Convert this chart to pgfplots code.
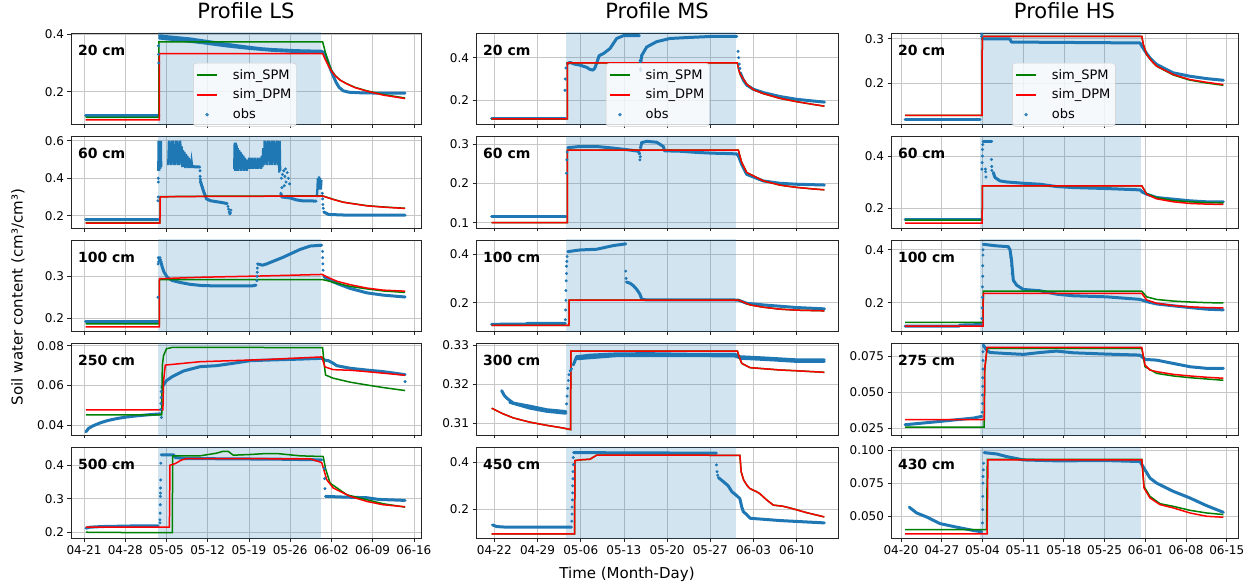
\documentclass[border=0pt]{standalone}
\usepackage{fontspec}
\setmainfont{DejaVu Sans}
\usepackage{pgfplots}
\pgfplotsset{compat=1.18}
\definecolor{tabblue}{HTML}{1F77B4}
\definecolor{mplgreen}{HTML}{008000}
\definecolor{mplred}{HTML}{FF0000}
\tikzset{dlab/.style={anchor=west, font=\bfseries\fontsize{14}{16}\selectfont}}
\pgfplotsset{
  base/.style={scale only axis, height=91.5pt, anchor=north west,
    axis line style={black!85, line width=0.8pt},
    grid=major, major grid style={black!22, line width=0.7pt},
    tick align=outside, major tick length=3.5pt,
    tick style={black!85, line width=0.8pt},
    xtick pos=left, ytick pos=left, scaled ticks=false,
    tick label style={font=\fontsize{12}{14}\selectfont},
    clip=true},
  c1/.style={base, width=350pt, xmin=-2.2, xmax=57.2, xtick={0,7,...,56}},
  c2/.style={base, width=362pt, xmin=-2.97, xmax=55.7, xtick={0,7,...,49}},
  c3/.style={base, width=347pt, xmin=-1.72, xmax=57.94, xtick={0,7,...,56}},
  noxl/.style={xticklabels={}},
  obsl/.style={tabblue, line width=3pt, line join=round, line cap=round, forget plot},
  obsz/.style={tabblue, line width=2.3pt, forget plot},
  obsm/.style={tabblue, only marks, mark=*, mark size=1.3pt, forget plot},
  spm/.style={mplgreen, line width=1.5pt, no marks},
  dpm/.style={mplred, line width=1.5pt, no marks},
  shade/.style={draw=none, fill=tabblue, fill opacity=0.2, forget plot},
  leg/.style={legend style={at={(#1,0.672)}, anchor=north west, font=\fontsize{13}{15}\selectfont, draw=black!20, rounded corners=3pt, fill=white, fill opacity=0.8, text opacity=1, cells={anchor=west}, inner xsep=3pt, inner ysep=4pt, row sep=4.5pt, nodes={inner sep=2pt}},
     legend image code/.code={\path (0pt,-2pt) (33pt,2pt); \draw[mark repeat=2,mark phase=2,##1] plot coordinates {(0pt,0pt) (10pt,0pt) (20pt,0pt)};}},
  ttl/.style={title={#1}, title style={font=\fontsize{21}{25}\selectfont, at={(0.5,1)}, anchor=base, yshift=8pt}},
}
\begin{document}
\begin{tikzpicture}
\path[use as bounding box] (0,0) rectangle (1253pt,-588pt);

% ---------------- LS 20
\begin{axis}[c1, noxl, at={(71pt,-33pt)}, ymin=0.0855, ymax=0.4046, ytick={0.2,0.4}, yticklabels={0.2,0.4}, ttl={Profile LS}, leg=0.349]
\addplot[shade] coordinates {(12.56,0) (40.18,0) (40.18,1) (12.56,1)};
\addplot[obsl] coordinates {(0.3,0.117) (12.7,0.117)};
\addplot[obsm] coordinates {(12.65,0.33) (12.65,0.36) (12.7,0.30)};
\addplot[obsl] coordinates {(12.8,0.395) (14,0.392) (16,0.388) (18,0.384) (20,0.378) (22,0.372) (24,0.366) (26,0.36) (28,0.355) (30,0.35) (32,0.347) (34,0.345) (36,0.343) (38,0.342) (40.3,0.341) (40.8,0.335) (41.3,0.31) (41.8,0.28) (42.3,0.255) (42.8,0.232) (43.3,0.215) (44,0.203) (45,0.198) (47,0.196) (50,0.195) (54.5,0.195)};
\addplot[obsl] coordinates {(12.8,0.387) (16,0.380) (20,0.371) (24,0.360) (28,0.351) (32,0.344) (36,0.340) (40.3,0.338)};
\addplot[spm] coordinates {(0.3,0.110) (12.7,0.110) (12.72,0.374) (40.5,0.374) (41.0,0.335) (41.5,0.30) (42.0,0.275) (42.7,0.255) (43.5,0.24) (44.6,0.228) (46,0.215) (48,0.203) (50.8,0.19) (54.5,0.178)};
\addlegendentry{sim\_SPM}
\addplot[dpm] coordinates {(0.3,0.102) (12.8,0.102) (12.82,0.333) (40.5,0.333) (41.0,0.31) (41.5,0.29) (42.0,0.272) (42.7,0.254) (43.5,0.24) (44.6,0.227) (46,0.214) (48,0.202) (50.8,0.188) (54.5,0.176)};
\addlegendentry{sim\_DPM}
\addlegendimage{tabblue, only marks, mark=*, mark size=1.5pt}
\addlegendentry{obs}
\node[dlab] at (rel axis cs:0.01,0.81) {20 cm};
\end{axis}

% ---------------- LS 60
\begin{axis}[c1, noxl, at={(71pt,-136.5pt)}, ymin=0.1347, ymax=0.6228, ytick={0.2,0.4,0.6}, yticklabels={0.2,0.4,0.6}]
\addplot[shade] coordinates {(12.56,0) (40.18,0) (40.18,1) (12.56,1)};
\addplot[obsl] coordinates {(0.3,0.179) (12.6,0.179)};
\addplot[obsm] coordinates {(12.55,0.28) (12.6,0.30) (12.6,0.40) (12.62,0.38)};
\addplot[obsz] coordinates {(12.62,0.44) (12.66,0.60) (12.70,0.45) (12.74,0.60) (12.78,0.44) (12.82,0.59) (12.86,0.46) (12.90,0.60) (12.94,0.45) (12.98,0.58) (13.02,0.47) (13.06,0.60) (13.1,0.46)};
\addplot[obsz] coordinates {(14.3,0.47) (14.42,0.60) (14.54,0.48) (14.66,0.59) (14.78,0.47) (14.90,0.60) (15.02,0.50) (15.14,0.60) (15.26,0.47) (15.38,0.58) (15.50,0.47) (15.62,0.60) (15.74,0.49) (15.86,0.60) (15.98,0.47) (16.10,0.59) (16.22,0.47) (16.34,0.60) (16.46,0.48) (16.58,0.57) (16.7,0.46) (16.82,0.55) (16.94,0.46) (17.06,0.54) (17.18,0.455) (17.30,0.53) (17.42,0.46) (17.54,0.52) (17.66,0.455) (17.78,0.51) (17.90,0.455) (18.02,0.50) (18.14,0.455) (18.26,0.49) (18.38,0.46)};
\addplot[obsl] coordinates {(18.38,0.462) (19.65,0.46)};
\addplot[obsm] coordinates {(19.7,0.44) (19.72,0.41) (19.75,0.395)};
\addplot[obsl] coordinates {(19.75,0.385) (20.0,0.36) (20.3,0.33) (20.8,0.29) (21.5,0.28) (22.5,0.275) (23.5,0.27) (24.3,0.265)};
\addplot[obsm] coordinates {(24.45,0.25) (24.55,0.235) (24.65,0.22) (24.75,0.21) (24.85,0.215) (24.95,0.23)};
\addplot[obsz] coordinates {(25.5,0.45) (25.58,0.59) (25.66,0.44) (25.74,0.59) (25.82,0.45) (25.90,0.58) (25.98,0.44) (26.1,0.56) (26.22,0.44) (26.34,0.55) (26.46,0.45) (26.58,0.54) (26.70,0.44) (26.82,0.53) (26.94,0.45) (27.06,0.52) (27.18,0.44) (27.30,0.51) (27.42,0.45) (27.54,0.50) (27.66,0.44) (27.78,0.49) (27.90,0.45) (28.02,0.51) (28.14,0.45) (28.26,0.50) (28.38,0.45) (28.50,0.51) (28.62,0.45) (28.74,0.50) (28.86,0.46) (28.98,0.51) (29.10,0.45) (29.22,0.50) (29.34,0.45) (29.46,0.51) (29.58,0.45) (29.70,0.50) (29.82,0.46) (29.94,0.51) (30.06,0.45) (30.18,0.52) (30.30,0.46) (30.42,0.56) (30.54,0.47) (30.66,0.60) (30.78,0.48) (30.90,0.59) (31.02,0.47) (31.14,0.60) (31.26,0.49) (31.38,0.60) (31.50,0.47) (31.62,0.58) (31.74,0.48) (31.86,0.60) (31.98,0.47) (32.10,0.60) (32.22,0.50) (32.34,0.60) (32.46,0.47) (32.58,0.59) (32.70,0.48) (32.82,0.60) (32.94,0.47) (33.06,0.58) (33.14,0.43) (33.22,0.60) (33.30,0.44)};
\addplot[obsm] coordinates {(33.5,0.40) (33.7,0.42) (33.9,0.44) (34.1,0.41) (34.3,0.38) (34.5,0.43) (34.7,0.40) (34.9,0.37) (33.6,0.35) (34.0,0.36) (34.2,0.45)};
\addplot[obsl] coordinates {(33.4,0.32) (33.6,0.30) (35,0.295) (36,0.285) (37,0.28) (38,0.28) (39.4,0.278)};
\addplot[obsz] coordinates {(39.5,0.30) (39.6,0.33) (39.7,0.40) (39.8,0.34) (39.9,0.41) (40.0,0.35) (40.1,0.40) (40.2,0.34) (40.3,0.39)};
\addplot[obsm] coordinates {(40.45,0.32) (40.5,0.29) (40.55,0.26) (40.6,0.24)};
\addplot[obsl] coordinates {(40.7,0.22) (41.2,0.212) (41.5,0.207) (44,0.204) (54.5,0.203)};
\addplot[spm] coordinates {(0.3,0.163) (12.9,0.163) (12.92,0.302) (20,0.304) (30,0.305) (40.5,0.306) (41.5,0.296) (42.5,0.286) (44,0.273) (45.2,0.267) (48,0.254) (50.8,0.247) (54.5,0.240)};
\addplot[dpm] coordinates {(0.3,0.161) (12.9,0.161) (12.92,0.301) (20,0.303) (30,0.304) (40.5,0.305) (41.5,0.295) (42.5,0.285) (44,0.272) (45.2,0.266) (48,0.253) (50.8,0.246) (54.5,0.239)};
\node[dlab] at (rel axis cs:0.01,0.81) {60 cm};
\end{axis}

% ---------------- LS 100
\begin{axis}[c1, noxl, at={(71pt,-240pt)}, ymin=0.1676, ymax=0.3875, ytick={0.2,0.3}, yticklabels={0.2,0.3}]
\addplot[shade] coordinates {(12.56,0) (40.18,0) (40.18,1) (12.56,1)};
\addplot[obsl] coordinates {(0.3,0.191) (12.6,0.191)};
\addplot[obsm] coordinates {(12.55,0.25) (12.6,0.33) (12.62,0.345) (12.68,0.335) (12.75,0.342) (12.82,0.338) (12.9,0.345) (13.0,0.34) (13.1,0.335)};
\addplot[obsl] coordinates {(13.1,0.332) (13.3,0.322) (13.6,0.31) (14.2,0.297) (15,0.29) (16.5,0.285) (18,0.281) (20,0.278) (23,0.277) (26,0.277) (28.5,0.277) (29.2,0.279)};
\addplot[obsm] coordinates {(29.35,0.29) (29.38,0.30) (29.4,0.31) (29.42,0.32)};
\addplot[obsl] coordinates {(29.45,0.33) (30.3,0.327) (31,0.33) (33.8,0.346) (36.7,0.365) (38.4,0.373) (40.35,0.375)};
\addplot[obsm] coordinates {(40.5,0.36) (40.52,0.345) (40.55,0.33) (40.58,0.315)};
\addplot[obsl] coordinates {(40.7,0.30) (41.2,0.295) (42.3,0.287) (43.5,0.28) (45.2,0.271) (48,0.2605) (50.8,0.255) (54.5,0.2505)};
\addplot[spm] coordinates {(0.3,0.186) (12.8,0.186) (12.82,0.292) (40.6,0.292) (41.5,0.289) (43,0.283) (45.2,0.276) (48,0.27) (50.8,0.265) (54.5,0.2615)};
\addplot[dpm] coordinates {(0.3,0.179) (12.8,0.179) (12.82,0.2945) (20,0.298) (30,0.301) (40.4,0.3047) (41.5,0.297) (43,0.288) (45.2,0.28) (48,0.272) (50.8,0.267) (54.5,0.2645)};
\node[dlab] at (rel axis cs:0.01,0.81) {100 cm};
\end{axis}

% ---------------- LS 250
\begin{axis}[c1, noxl, at={(71pt,-343.5pt)}, ymin=0.03515, ymax=0.08115, ytick={0.04,0.06,0.08}, yticklabels={0.04,0.06,0.08}]
\addplot[shade] coordinates {(12.56,0) (40.18,0) (40.18,1) (12.56,1)};
\addplot[obsl] coordinates {(0.34,0.0368) (0.8,0.0385) (1.5,0.0397) (2.7,0.0412) (4,0.0424) (5.55,0.0434) (7,0.0441) (8.4,0.0446) (10.5,0.0452) (12.6,0.0457) (13.0,0.0458)};
\addplot[obsm] coordinates {(13.0,0.048) (13.05,0.051) (13.1,0.054) (13.1,0.057) (13.15,0.044)};
\addplot[obsl] coordinates {(13.2,0.059) (14.0,0.0625) (15.0,0.0645) (16.86,0.0673) (19.7,0.0695) (22.5,0.070) (25.35,0.0712) (28.2,0.0725) (31,0.0728) (36.7,0.0733) (40.35,0.0737) (40.9,0.0728) (41.5,0.0725) (42.3,0.0712) (42.9,0.070) (45.2,0.0687) (48,0.0678) (50.8,0.067) (54.5,0.0655)};
\addplot[obsm] coordinates {(54.5,0.062)};
\addplot[spm] coordinates {(0.34,0.0453) (13.2,0.0453) (13.3,0.07) (13.5,0.075) (14.0,0.0785) (15,0.0792) (40.5,0.0791) (40.8,0.07) (41.0,0.0653) (42.3,0.0637) (45.2,0.0617) (48,0.0603) (50.8,0.059) (54.5,0.0575)};
\addplot[dpm] coordinates {(0.34,0.0478) (13.4,0.0478) (13.5,0.062) (13.8,0.0703) (19.7,0.072) (31,0.0731) (40.35,0.0744) (40.9,0.0694) (42.3,0.068) (45.2,0.0677) (48,0.067) (54.5,0.0652)};
\node[dlab] at (rel axis cs:0.01,0.81) {250 cm};
\end{axis}

% ---------------- LS 500
\begin{axis}[c1, at={(71pt,-447pt)}, ymin=0.1813, ymax=0.4544, ytick={0.2,0.3,0.4}, yticklabels={0.2,0.3,0.4}, xticklabels={04-21,04-28,05-05,05-12,05-19,05-26,06-02,06-09,06-16}]
\addplot[shade] coordinates {(12.56,0) (40.18,0) (40.18,1) (12.56,1)};
\addplot[obsl] coordinates {(0.34,0.212) (1,0.215) (3,0.217) (6,0.218) (9,0.219) (12.6,0.219)};
\addplot[obsm] coordinates {(12.9,0.228) (12.9,0.237) (12.92,0.257) (12.95,0.282) (12.97,0.307) (12.98,0.317) (13.0,0.332) (13.02,0.356) (13.05,0.406)};
\addplot[obsl] coordinates {(13.1,0.431) (15.2,0.431) (15.5,0.423) (17,0.42) (25,0.419) (33,0.418) (40.35,0.416)};
\addplot[obsm] coordinates {(40.8,0.39) (40.85,0.36) (40.9,0.33)};
\addplot[obsl] coordinates {(41.0,0.307) (44,0.305) (48,0.303) (50,0.298) (54.5,0.295)};
\addplot[spm] coordinates {(0.34,0.2) (8,0.199) (15.0,0.1985) (15.05,0.4276) (19.7,0.428) (22.5,0.436) (23.5,0.441) (24.5,0.441) (25.35,0.43) (28.2,0.432) (31,0.435) (32.7,0.435) (36.7,0.428) (40.6,0.426) (41.0,0.39) (41.77,0.3465) (44.6,0.312) (48,0.297) (50.8,0.285) (54.5,0.275)};
\addplot[dpm] coordinates {(0.34,0.215) (14.5,0.215) (14.6,0.40) (15.5,0.405) (16.5,0.415) (17.4,0.42) (38.4,0.419) (40.35,0.408) (41.2,0.357) (42.3,0.332) (45.2,0.307) (48,0.292) (50.8,0.282) (54.5,0.276)};
\node[dlab] at (rel axis cs:0.01,0.81) {500 cm};
\end{axis}

% ================= MS
\begin{axis}[c2, noxl, at={(476pt,-33pt)}, ymin=0.0871, ymax=0.5157, ytick={0.2,0.4}, yticklabels={0.2,0.4}, ttl={Profile MS}, leg=0.359]
\addplot[shade] coordinates {(11.6,0) (39.2,0) (39.2,1) (11.6,1)};
\addplot[obsl] coordinates {(-0.43,0.114) (11.5,0.114)};
\addplot[obsm] coordinates {(11.45,0.2476) (11.5,0.30) (11.6,0.352)};
\addplot[obsl] coordinates {(11.8,0.372) (12.26,0.378) (13.0,0.37) (13.9,0.365) (14.96,0.355) (15.5,0.345) (16.0,0.342) (16.3,0.352) (16.59,0.375) (17.0,0.41) (17.67,0.419) (18.75,0.443) (19.83,0.49) (20.9,0.503) (23.5,0.503)};
\addplot[obsm] coordinates {(23.65,0.387) (23.67,0.38) (23.7,0.348) (23.72,0.34)};
\addplot[obsl] coordinates {(23.75,0.38) (23.88,0.41) (24.69,0.45) (26.31,0.475) (28.47,0.49) (31.71,0.495) (35.5,0.5) (39.3,0.5)};
\addplot[obsm] coordinates {(39.5,0.43) (39.6,0.40) (39.7,0.37) (39.8,0.35)};
\addplot[obsl] coordinates {(39.85,0.33) (40.36,0.295) (40.9,0.272) (42,0.252) (43.6,0.2365) (46.3,0.218) (49,0.205) (51.7,0.197) (53.5,0.192)};
\addplot[spm] coordinates {(-0.43,0.114) (11.83,0.114) (11.85,0.376) (39.4,0.376) (39.6,0.345) (39.82,0.324) (40.9,0.276) (42,0.25) (43.6,0.2317) (46.3,0.2095) (49,0.194) (51.7,0.181) (53.5,0.173)};
\addlegendentry{sim\_SPM}
\addplot[dpm] coordinates {(-0.43,0.114) (11.83,0.114) (11.85,0.376) (39.4,0.376) (39.6,0.345) (39.82,0.324) (40.9,0.276) (42,0.25) (43.6,0.2317) (46.3,0.2095) (49,0.194) (51.7,0.181) (53.5,0.173)};
\addlegendentry{sim\_DPM}
\addlegendimage{tabblue, only marks, mark=*, mark size=1.5pt}
\addlegendentry{obs}
\node[dlab] at (rel axis cs:0.01,0.81) {20 cm};
\end{axis}

\begin{axis}[c2, noxl, at={(476pt,-136.5pt)}, ymin=0.0866, ymax=0.3195, ytick={0.1,0.2,0.3}, yticklabels={0.1,0.2,0.3}]
\addplot[shade] coordinates {(11.6,0) (39.2,0) (39.2,1) (11.6,1)};
\addplot[obsl] coordinates {(-0.43,0.115) (11.6,0.115)};
\addplot[obsm] coordinates {(11.7,0.226) (11.75,0.26) (11.8,0.28)};
\addplot[obsl] coordinates {(11.9,0.291) (13.88,0.294) (16.59,0.294) (19.29,0.29) (21.99,0.285) (23.34,0.282) (23.55,0.275)};
\addplot[obsm] coordinates {(23.6,0.26) (23.65,0.268)};
\addplot[obsl] coordinates {(23.7,0.29) (23.88,0.304) (24.69,0.307) (26.31,0.305) (27.39,0.294) (27.6,0.283) (30.09,0.282) (32.79,0.279) (35.49,0.277) (38.2,0.276) (39.28,0.275) (39.55,0.27) (40.09,0.2485) (40.9,0.2232) (43.6,0.2063) (46.3,0.2004) (49,0.198) (53.5,0.196)};
\addplot[spm] coordinates {(-0.43,0.1) (11.83,0.1) (11.85,0.2848) (39.55,0.2848) (40.09,0.2532) (40.9,0.2279) (43.6,0.2066) (46.3,0.1957) (49,0.1899) (51.7,0.186) (53.5,0.1838)};
\addplot[dpm] coordinates {(-0.43,0.1) (11.83,0.1) (11.85,0.2848) (39.55,0.2848) (40.09,0.2532) (40.9,0.2279) (43.6,0.2066) (46.3,0.1957) (49,0.1899) (51.7,0.186) (53.5,0.1838)};
\node[dlab] at (rel axis cs:0.01,0.81) {60 cm};
\end{axis}

\begin{axis}[c2, noxl, at={(476pt,-240pt)}, ymin=0.0814, ymax=0.458, ytick={0.2,0.4}, yticklabels={0.2,0.4}]
\addplot[shade] coordinates {(11.6,0) (39.2,0) (39.2,1) (11.6,1)};
\addplot[obsl] coordinates {(-0.43,0.111) (5,0.112) (5.5,0.115) (11.5,0.115)};
\addplot[obsm] coordinates {(11.5,0.13) (11.55,0.17) (11.6,0.21) (11.6,0.25) (11.65,0.29) (11.7,0.32) (11.7,0.35) (11.75,0.37) (11.8,0.39)};
\addplot[obsl] coordinates {(11.9,0.41) (13.88,0.417) (16.59,0.42) (19.29,0.435) (21.3,0.442)};
\addplot[obsm] coordinates {(21.3,0.33) (21.35,0.30)};
\addplot[obsl] coordinates {(21.4,0.285) (22.0,0.28) (22.53,0.27) (23.07,0.255) (23.6,0.235) (23.9,0.214) (24.5,0.212) (30,0.212) (39.5,0.211) (40.9,0.1975) (43.6,0.1908) (49,0.18) (53.5,0.1746)};
\addplot[spm] coordinates {(-0.43,0.1065) (12.1,0.1065) (12.12,0.211) (39.55,0.211) (41.44,0.1908) (43.6,0.1813) (46.3,0.1733) (49,0.1692) (53.5,0.1665)};
\addplot[dpm] coordinates {(-0.43,0.1065) (12.1,0.1065) (12.12,0.211) (39.55,0.211) (41.44,0.1908) (43.6,0.1813) (46.3,0.1733) (49,0.1692) (53.5,0.1665)};
\node[dlab] at (rel axis cs:0.01,0.81) {100 cm};
\end{axis}

\begin{axis}[c2, noxl, at={(476pt,-343.5pt)}, ymin=0.30702, ymax=0.3305, ytick={0.31,0.32,0.33}, yticklabels={0.31,0.32,0.33}]
\addplot[shade] coordinates {(11.6,0) (39.2,0) (39.2,1) (11.6,1)};
\addplot[obsl] coordinates {(1.19,0.3184) (1.6,0.3172) (2.0,0.3165) (3.08,0.3152) (5.78,0.3144) (8.48,0.3135) (11.18,0.3131) (11.6,0.313)};
\addplot[obsl] coordinates {(2.5,0.3154) (5.78,0.3139) (8.48,0.3131) (11.6,0.3126)};
\addplot[obsm] coordinates {(11.72,0.315) (11.8,0.317) (11.9,0.319) (12.0,0.321) (12.1,0.3225) (12.3,0.3235) (12.5,0.324)};
\addplot[obsl] coordinates {(12.8,0.325) (13.34,0.3271) (15.5,0.3275) (19.29,0.3278) (24.7,0.3279) (32.79,0.3277) (39.0,0.3277) (39.82,0.3271) (43.6,0.3268) (49,0.3263) (53.48,0.3263)};
\addplot[obsl] coordinates {(13.5,0.3266) (20,0.3274) (32,0.3274) (39.0,0.3273) (40,0.3267) (45,0.3263) (49,0.3259) (53.48,0.3259)};
\addplot[spm] coordinates {(-0.43,0.3139) (1.19,0.3126) (3.08,0.3114) (5.78,0.3103) (8.48,0.3095) (11.18,0.3088) (12.37,0.3084) (12.4,0.32855) (39.4,0.32855) (39.6,0.3275) (40.09,0.3254) (41.44,0.3243) (46.3,0.3237) (49,0.3235) (53.48,0.3231)};
\addplot[dpm] coordinates {(-0.43,0.3139) (1.19,0.3126) (3.08,0.3114) (5.78,0.3103) (8.48,0.3095) (11.18,0.3088) (12.37,0.3084) (12.4,0.32855) (39.4,0.32855) (39.6,0.3275) (40.09,0.3254) (41.44,0.3243) (46.3,0.3237) (49,0.3235) (53.48,0.3231)};
\node[dlab] at (rel axis cs:0.01,0.81) {300 cm};
\end{axis}

\begin{axis}[c2, at={(476pt,-447pt)}, ymin=0.0764, ymax=0.4646, ytick={0.2,0.4}, yticklabels={0.2,0.4}, xticklabels={04-22,04-29,05-06,05-13,05-20,05-27,06-03,06-10}]
\addplot[shade] coordinates {(11.6,0) (39.2,0) (39.2,1) (11.6,1)};
\addplot[obsl] coordinates {(-0.3,0.134) (0.4,0.127) (2,0.1244) (8,0.1244) (12.5,0.1244)};
\addplot[obsm] coordinates {(12.55,0.15) (12.6,0.18) (12.6,0.21) (12.65,0.24) (12.7,0.27) (12.7,0.30) (12.75,0.33) (12.75,0.36) (12.8,0.39) (12.8,0.42)};
\addplot[obsl] coordinates {(12.85,0.4408) (20,0.44) (30,0.439) (36.0,0.439)};
\addplot[obsm] coordinates {(36.0,0.3887) (36.1,0.36) (36.2,0.345)};
\addplot[obsl] coordinates {(36.3,0.335) (37.1,0.318) (37.9,0.30) (38.5,0.275) (39.3,0.258) (39.8,0.245) (40.1,0.21) (40.36,0.19) (40.9,0.178) (41.5,0.162) (43.6,0.158) (46.3,0.1525) (53.48,0.1426)};
\addplot[spm] coordinates {(-0.43,0.0962) (13.0,0.0962) (13.07,0.407) (13.88,0.41) (15.5,0.4127) (16.59,0.43) (39.8,0.4295) (40.0,0.36) (40.4,0.325) (41.0,0.30) (41.44,0.288) (42.5,0.275) (43.06,0.266) (44.14,0.24) (45.22,0.218) (46.84,0.213) (48.46,0.202) (50.62,0.186) (53.48,0.168)};
\addplot[dpm] coordinates {(-0.43,0.0962) (13.0,0.0962) (13.07,0.407) (13.88,0.41) (15.5,0.4127) (16.59,0.43) (39.8,0.4295) (40.0,0.36) (40.4,0.325) (41.0,0.30) (41.44,0.288) (42.5,0.275) (43.06,0.266) (44.14,0.24) (45.22,0.218) (46.84,0.213) (48.46,0.202) (50.62,0.186) (53.48,0.168)};
\node[dlab] at (rel axis cs:0.01,0.81) {450 cm};
\end{axis}

% ================= HS
\begin{axis}[c3, noxl, at={(891pt,-33pt)}, ymin=0.1087, ymax=0.3127, ytick={0.2,0.3}, yticklabels={0.2,0.3}, ttl={Profile HS}, leg=0.349]
\addplot[shade] coordinates {(13.6,0) (41.25,0) (41.25,1) (13.6,1)};
\addplot[obsl] coordinates {(0.69,0.1191) (13.6,0.1191)};
\addplot[obsm] coordinates {(13.85,0.305) (13.9,0.31)};
\addplot[obsl] coordinates {(13.95,0.2995) (18.7,0.2995) (19.0,0.2925) (30,0.2915) (41.1,0.2905) (41.4,0.2836) (41.95,0.272) (42.81,0.257) (43.95,0.2425) (45.1,0.235) (46.82,0.2238) (49.68,0.2163) (52.55,0.211) (55.42,0.2073)};
\addplot[spm] coordinates {(0.69,0.1288) (13.95,0.1288) (13.97,0.3052) (41.4,0.3052) (41.66,0.287) (42.23,0.265) (43.1,0.25) (43.95,0.2387) (46.82,0.219) (49.68,0.2075) (52.55,0.2012) (55.42,0.1961)};
\addlegendentry{sim\_SPM}
\addplot[dpm] coordinates {(0.69,0.1288) (13.95,0.1288) (13.97,0.3052) (41.4,0.3052) (41.66,0.287) (42.23,0.265) (43.1,0.25) (43.95,0.2387) (46.82,0.2201) (49.68,0.2088) (52.55,0.2028) (55.42,0.1976)};
\addlegendentry{sim\_DPM}
\addlegendimage{tabblue, only marks, mark=*, mark size=1.5pt}
\addlegendentry{obs}
\node[dlab] at (rel axis cs:0.01,0.81) {20 cm};
\end{axis}

\begin{axis}[c3, noxl, at={(891pt,-136.5pt)}, ymin=0.125, ymax=0.4748, ytick={0.2,0.4}, yticklabels={0.2,0.4}]
\addplot[shade] coordinates {(13.6,0) (41.25,0) (41.25,1) (13.6,1)};
\addplot[obsl] coordinates {(0.69,0.1592) (13.9,0.1592)};
\addplot[obsm] coordinates {(13.9,0.35) (13.95,0.375) (14.0,0.40) (14.0,0.425) (14.05,0.444) (14.5,0.35) (14.55,0.34) (14.6,0.32) (15.55,0.387) (15.6,0.36) (15.62,0.345)};
\addplot[obsl] coordinates {(14.1,0.455) (15.6,0.455)};
\addplot[obsl] coordinates {(15.87,0.337) (16.16,0.318) (17.02,0.305) (18.17,0.301) (21.03,0.296) (23.9,0.2923) (26.76,0.2834) (29.63,0.2796) (35.36,0.2758) (41.09,0.2707) (41.5,0.262) (42.23,0.2543) (43.95,0.2416) (46.82,0.2352) (49.68,0.2289) (52.55,0.2251) (55.42,0.2251)};
\addplot[spm] coordinates {(0.69,0.1554) (13.95,0.1554) (14.0,0.2865) (41.4,0.2865) (42.23,0.256) (43.95,0.241) (46.82,0.23) (49.68,0.2252) (52.55,0.222) (55.42,0.2213)};
\addplot[dpm] coordinates {(0.69,0.144) (13.95,0.144) (14.0,0.286) (41.4,0.286) (42.23,0.254) (43.95,0.2365) (46.82,0.2252) (49.68,0.2188) (52.55,0.2163) (55.42,0.215)};
\node[dlab] at (rel axis cs:0.01,0.81) {60 cm};
\end{axis}

\begin{axis}[c3, noxl, at={(891pt,-240pt)}, ymin=0.0907, ymax=0.4373, ytick={0.2,0.4}, yticklabels={0.2,0.4}]
\addplot[shade] coordinates {(13.6,0) (41.25,0) (41.25,1) (13.6,1)};
\addplot[obsl] coordinates {(0.69,0.1106) (10,0.111) (10.14,0.115) (13.87,0.117)};
\addplot[obsm] coordinates {(13.9,0.14) (13.95,0.18) (14.0,0.22) (14.0,0.26) (14.05,0.30) (14.05,0.34) (14.1,0.38) (14.1,0.40) (18.9,0.37) (19.0,0.34) (19.1,0.31)};
\addplot[obsl] coordinates {(14.15,0.421) (16.45,0.415) (18.45,0.412) (18.74,0.40) (19.0,0.36) (19.31,0.2845) (19.89,0.266) (21.03,0.25) (23.9,0.245) (26.76,0.232) (29.63,0.226) (35.36,0.222) (41.09,0.2124) (42.23,0.204) (43.95,0.195) (46.82,0.188) (49.68,0.1814) (52.55,0.1752) (55.42,0.1727)};
\addplot[spm] coordinates {(0.69,0.1255) (14.1,0.1255) (14.15,0.2435) (41.4,0.2435) (42.23,0.222) (43.95,0.212) (46.82,0.206) (49.68,0.2025) (52.55,0.2) (55.42,0.1988)};
\addplot[dpm] coordinates {(0.69,0.1106) (14.1,0.1106) (14.15,0.2348) (41.4,0.2348) (42.23,0.21) (43.95,0.1975) (46.82,0.1888) (49.68,0.1839) (52.55,0.1814) (55.42,0.18)};
\node[dlab] at (rel axis cs:0.01,0.81) {100 cm};
\end{axis}

\begin{axis}[c3, noxl, at={(891pt,-343.5pt)}, ymin=0.02017, ymax=0.08376, ytick={0.025,0.05,0.075}, yticklabels={0.025,0.050,0.075}]
\addplot[shade] coordinates {(13.6,0) (41.25,0) (41.25,1) (13.6,1)};
\addplot[obsl] coordinates {(0.69,0.0273) (3.84,0.0285) (6.7,0.0296) (9.57,0.0308) (12.44,0.0319) (13.87,0.0331)};
\addplot[obsm] coordinates {(13.95,0.036) (14.0,0.042) (14.0,0.048) (14.05,0.054) (14.05,0.06) (14.1,0.066) (14.1,0.072) (14.1,0.078) (14.15,0.0838)};
\addplot[obsl] coordinates {(14.15,0.0826) (14.73,0.0791) (15.3,0.0775) (18.17,0.0768) (21.03,0.0762) (23.9,0.0775) (26.76,0.0785) (29.63,0.0773) (35.36,0.0764) (41.09,0.0757) (41.95,0.0727) (43.95,0.0722) (46.82,0.0699) (49.68,0.0676) (52.55,0.0665) (55.42,0.0665)};
\addplot[spm] coordinates {(0.69,0.0257) (14.3,0.0257) (14.4,0.066) (14.8,0.0803) (41.4,0.0803) (41.95,0.0676) (43.95,0.063) (46.82,0.0612) (49.68,0.06) (52.55,0.0591) (55.42,0.0582)};
\addplot[dpm] coordinates {(0.69,0.0308) (14.3,0.0308) (14.4,0.0665) (14.8,0.081) (41.4,0.081) (41.95,0.0688) (42.81,0.0653) (43.95,0.0642) (46.82,0.0623) (49.68,0.0612) (52.55,0.0603) (55.42,0.0596)};
\node[dlab] at (rel axis cs:0.01,0.81) {275 cm};
\end{axis}

\begin{axis}[c3, at={(891pt,-447pt)}, ymin=0.03325, ymax=0.10225, ytick={0.05,0.075,0.1}, yticklabels={0.050,0.075,0.100}, xticklabels={04-20,04-27,05-04,05-11,05-18,05-25,06-01,06-08,06-15}]
\addplot[shade] coordinates {(13.6,0) (41.25,0) (41.25,1) (13.6,1)};
\addplot[obsl] coordinates {(1.43,0.0568) (2.69,0.0525) (4.41,0.0495) (6.7,0.0445) (9.57,0.0418) (12.44,0.0393) (13.87,0.0383)};
\addplot[obsm] coordinates {(14.0,0.045) (14.05,0.055) (14.05,0.065) (14.1,0.075) (14.1,0.08) (14.15,0.085) (14.2,0.09)};
\addplot[obsl] coordinates {(14.3,0.098) (16.45,0.097) (18.17,0.095) (21.03,0.0925) (26.76,0.0918) (35.36,0.092) (41.09,0.0913) (41.95,0.085) (42.81,0.0788) (43.95,0.075) (46.82,0.0688) (49.68,0.0638) (52.55,0.058) (55.42,0.053)};
\addplot[spm] coordinates {(0.69,0.04) (14.7,0.04) (14.84,0.093) (41.4,0.093) (41.78,0.0725) (42.81,0.065) (44.53,0.0595) (46.82,0.0575) (49.68,0.0545) (52.55,0.0525) (55.42,0.0513)};
\addplot[dpm] coordinates {(0.69,0.03675) (14.8,0.03675) (14.95,0.0925) (41.4,0.0925) (41.78,0.0713) (42.81,0.0638) (44.53,0.0588) (46.82,0.0563) (49.68,0.0525) (52.55,0.05) (55.42,0.0493)};
\node[dlab] at (rel axis cs:0.01,0.81) {430 cm};
\end{axis}

\node[rotate=90, font=\fontsize{15}{18}\selectfont] at (18pt,-297pt) {Soil water content (cm³/cm³)};
\node[font=\fontsize{15}{18}\selectfont] at (627pt,-574pt) {Time (Month-Day)};
\end{tikzpicture}
\end{document}
